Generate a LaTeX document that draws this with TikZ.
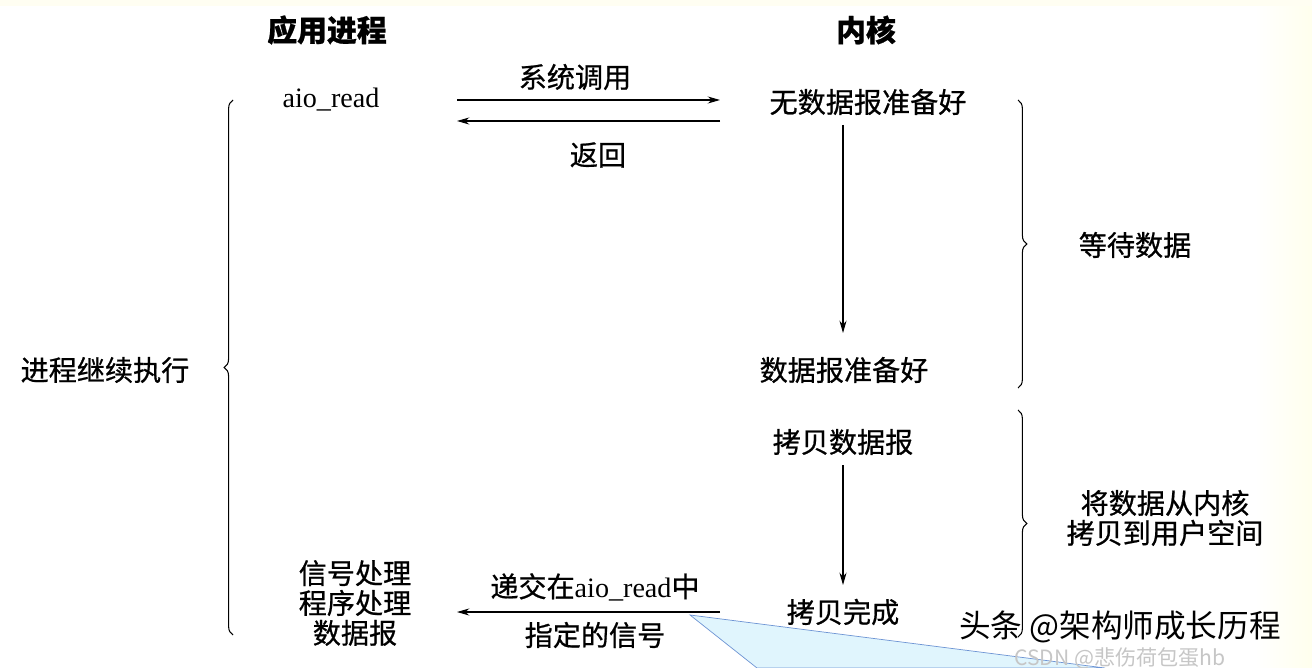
\documentclass[tikz,border=0pt]{standalone}
\usepackage{fontspec}
\setmainfont{Liberation Serif}
\newfontfamily\cjk[FakeBold=0.7]{Noto Sans CJK SC}
\newfontfamily\cjkmark{Noto Sans CJK SC}
\usetikzlibrary{decorations.pathreplacing,arrows.meta}

\begin{document}
\begin{tikzpicture}[x=0.2mm, y=-0.2mm,
  txt/.style={font=\cjk\fontsize{16}{17}\selectfont, inner sep=1pt, align=center},
  hdr/.style={font=\cjk\bfseries\fontsize{17}{20}\selectfont, inner sep=1pt},
  lat/.style={font=\fontsize{16}{18}\selectfont, inner sep=1pt},
  msg/.style={-{Stealth[length=7pt,width=4pt]}, semithick},
  brc/.style={decorate, decoration={brace, amplitude=5pt}, semithick},
  wmark/.style={font=\cjkmark\fontsize{18}{20}\selectfont, inner sep=0pt}
]
\useasboundingbox (0,0) rectangle (1312,668);
% ---------------- background ----------------
\fill[white] (0,0) rectangle (1312,668);
\fill[left color=white, right color=yellow!7] (1255,0) rectangle (1312,668);
\fill[yellow!5] (0,0) rectangle (1312,6);
\filldraw[fill=cyan!12, draw=cyan!45!blue!60, thin] (690,615) -- (757,668) -- (1105,668) -- cycle;
% ---------------- columns ----------------
\node[hdr] (app) at (327,30) {应用进程};
\node[hdr] (kern) at (866,30) {内核};
\node[lat] (aio) at (331,100) {aio\_read};
\node[txt] (nodata) at (868,102) {无数据报准备好};
\node[txt] (ready) at (844,370) {数据报准备好};
\node[txt] (copy) at (843,442) {拷贝数据报};
\node[txt] (done) at (843,612) {拷贝完成};
\node[txt] (handler) at (355,603) {信号处理\\程序处理\\数据报};
% ---------------- messages ----------------
\coordinate (sa) at (457,100);
\coordinate (sb) at (720,100);
\coordinate (ra) at (720,121);
\coordinate (rb) at (457,121);
\coordinate (da) at (720,612);
\coordinate (db) at (457,612);
\draw[msg] (sa) -- (sb);
\draw[msg] (ra) -- (rb);
\draw[msg] (da) -- (db);
\node[txt] (call) at (575,77) {系统调用};
\node[txt] (ret) at (598,155) {返回};
\node[txt] (deliver) at (595,587) {递交在{\fontspec{Liberation Serif}aio\_read}中};
\node[txt] (sig) at (595,635) {指定的信号};
% ---------------- kernel steps ----------------
\coordinate (w1) at (843,125);
\coordinate (w2) at (843,333);
\coordinate (k1) at (843,465);
\coordinate (k2) at (843,585);
\draw[msg] (w1) -- (w2);
\draw[msg] (k1) -- (k2);
% ---------------- braces ----------------
\coordinate (lb1) at (233,635);
\coordinate (lb2) at (233,100);
\coordinate (rb1) at (1018,100);
\coordinate (rb2) at (1018,388);
\coordinate (rb3) at (1018,410);
\coordinate (rb4) at (1018,637);
\draw[brc] (lb1) -- (lb2);
\draw[brc] (rb1) -- (rb2);
\draw[brc] (rb3) -- (rb4);
\node[txt] (cont) at (105,370) {进程继续执行};
\node[txt] (wait) at (1135,245) {等待数据};
\node[txt] (move) at (1165,518) {将数据从内核\\拷贝到用户空间};
% ---------------- watermark ----------------
\node[font=\cjkmark\fontsize{12}{14}\selectfont, text=gray!45, inner sep=0pt] (csdn) at (1120,658) {CSDN @悲伤荷包蛋hb};
\node[wmark] (tt) at (1120,627) {头条 @架构师成长历程};
\end{tikzpicture}
\end{document}
